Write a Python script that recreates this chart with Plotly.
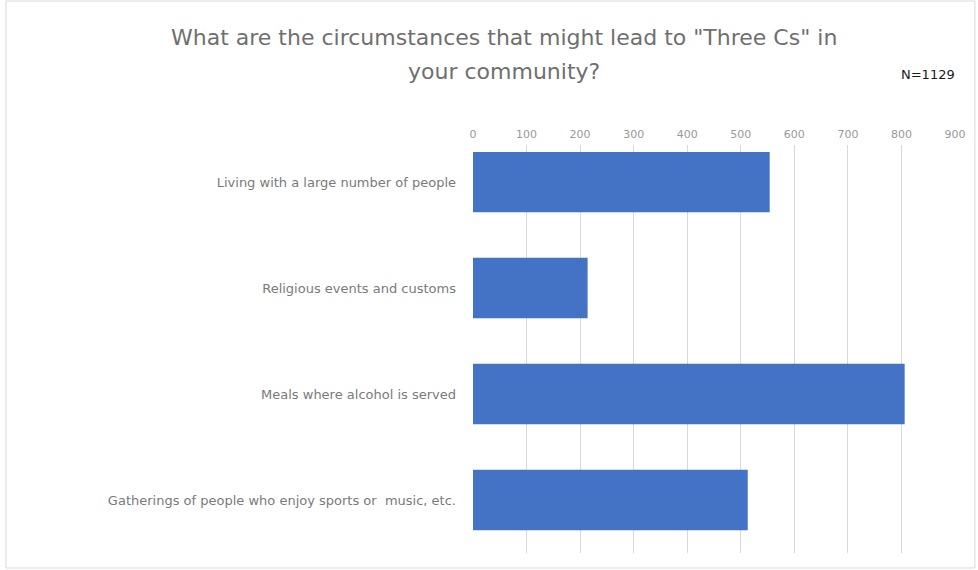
import plotly.graph_objects as go

# Survey responses
categories = [
    "Living with a large number of people",
    "Religious events and customs",
    "Meals where alcohol is served",
    "Gatherings of people who enjoy sports or  music, etc.",
]
counts = [554, 214, 806, 513]
x_ticks = [0, 100, 200, 300, 400, 500, 600, 700, 800, 900]

title_lines = [
    'What are the circumstances that might lead to "Three Cs" in',
    "your community?",
]
sample_note = "N=1129"

W, H = 978, 570
L, R, T, B = 473, 21, 145, 17
pw, ph = W - L - R, H - T - B


def px_x(x):
    return (x - L) / pw


def px_y(y):
    return (H - B - y) / ph


fig = go.Figure(
    go.Bar(
        x=counts,
        y=categories,
        orientation="h",
        marker=dict(color="#4472C4", line=dict(width=0)),
        width=0.57,
    )
)

fig.update_layout(
    width=W,
    height=H,
    margin=dict(l=L, r=R, t=T, b=B),
    paper_bgcolor="white",
    plot_bgcolor="white",
    showlegend=False,
    font=dict(family="DejaVu Sans", color="#7f7f7f"),
    xaxis=dict(
        side="top",
        range=[0, 900],
        tickvals=x_ticks,
        showgrid=True,
        gridcolor="#d9d9d9",
        gridwidth=1,
        zeroline=False,
        showline=False,
        ticks="",
        tickfont=dict(size=11, color="#999999"),
        ticklabelstandoff=4,
    ),
    yaxis=dict(
        type="category",
        range=[3.5, -0.35],
        showgrid=False,
        zeroline=False,
        showline=False,
        ticks="",
        ticklabelstandoff=16,
        tickfont=dict(size=13, color="#7a7a7a"),
    ),
    bargap=0.43,
)

# Two-line heading
for line, ypix in zip(title_lines, [37, 72]):
    fig.add_annotation(
        text=line,
        xref="paper", yref="paper",
        x=px_x(504), y=px_y(ypix),
        xanchor="center", yanchor="middle",
        showarrow=False,
        font=dict(size=22, color="#6f6f6f", family="DejaVu Sans"),
    )

fig.add_annotation(
    text=sample_note,
    xref="paper", yref="paper",
    x=px_x(930), y=px_y(75),
    xanchor="center", yanchor="middle",
    showarrow=False,
    font=dict(size=13, color="#1a1a1a", family="DejaVu Sans"),
)

# Chart frame
fig.add_shape(
    type="rect",
    xref="paper", yref="paper",
    x0=px_x(4), x1=px_x(977),
    y0=px_y(568), y1=px_y(1),
    line=dict(color="#d9d9d9", width=1),
    fillcolor="rgba(0,0,0,0)",
    layer="below",
)

fig.write_html("out.html")
